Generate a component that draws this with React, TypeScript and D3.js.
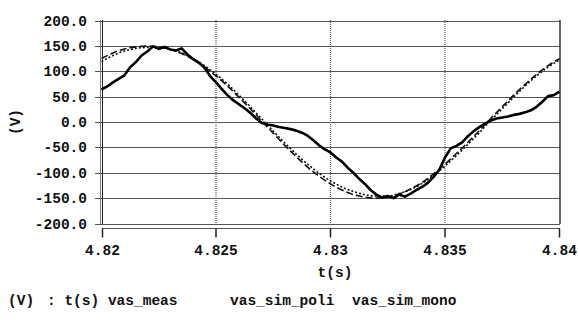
import { useEffect, useRef } from 'react';
import * as d3 from 'd3';

// time grid for the simulated waveforms (0.5 ms steps)
const simTimes = d3.range(41).map((i) => 4.82 + i * 0.0005);
// time grid for the measured waveform (0.25 ms steps)
const measTimes = d3.range(81).map((j) => 4.82 + j * 0.00025);

const vasSimPoli = [
  125, 136, 144, 148, 149.5, 148, 143, 135, 123, 108, 91, 71, 49, 26, 2, -22, -46, -68, -89, -107,
  -122, -134, -143, -148, -150, -148, -142, -132, -119, -102, -83, -62, -40, -17, 7, 30, 53, 74, 94,
  111, 125,
];

const vasSimMono = [
  119, 131, 140, 145, 147, 146.5, 143, 136, 125, 111, 94, 75, 53, 30, 6, -18, -41, -63, -83, -101,
  -116, -128, -137, -143, -146, -146, -141, -133, -121, -105, -87, -66, -44, -21, 3, 26, 49, 71, 91,
  108, 122,
];

const vasMeas = [
  64, 70, 78, 85, 92, 108, 118, 131, 139, 149, 144, 148, 143, 141, 145, 133, 124, 117, 107, 90,
  78, 65, 53, 43, 35, 27, 18, 7, -2, -5, -7, -10, -12, -14, -17, -21, -27, -36, -46, -54,
  -60, -70, -78, -90, -100, -112, -122, -134, -143, -149, -146, -150, -143, -147, -141, -134, -128,
  -120, -108, -94, -70, -52, -47, -40, -28, -18, -10, -3, 3, 7, 9, 11, 14, 16, 19, 23, 30, 40, 51,
  53, 60,
];

const yTicks = [200, 150, 100, 50, 0, -50, -100, -150, -200];
const xTicks = [4.82, 4.825, 4.83, 4.835, 4.84];
const xTickLabels = ['4.82', '4.825', '4.83', '4.835', '4.84'];

const FONT = '"Liberation Mono", "DejaVu Sans Mono", monospace';

export default function App() {
  const svgRef = useRef<SVGSVGElement>(null);

  useEffect(() => {
    if (!svgRef.current) return;
    const width = 578;
    const height = 323;

    const svg = d3.select(svgRef.current);
    svg.selectAll('*').remove();
    svg.attr('width', width).attr('height', height);

    svg.append('rect').attr('width', width).attr('height', height).attr('fill', '#fff');

    const x = d3.scaleLinear().domain([4.82, 4.84]).range([101.5, 559.5]);
    const y = d3.scaleLinear().domain([-200, 200]).range([223.5, 20.5]);

    // horizontal grid
    svg
      .append('g')
      .selectAll('line')
      .data(yTicks)
      .enter()
      .append('line')
      .attr('x1', 95)
      .attr('x2', 560)
      .attr('y1', (d) => Math.round(y(d)) + 0.5)
      .attr('y2', (d) => Math.round(y(d)) + 0.5)
      .attr('stroke', '#555')
      .attr('stroke-width', 1.2);

    // vertical dotted grid
    svg
      .append('g')
      .selectAll('line')
      .data(xTicks.slice(1, -1))
      .enter()
      .append('line')
      .attr('x1', (d) => x(d))
      .attr('x2', (d) => x(d))
      .attr('y1', 20)
      .attr('y2', 224)
      .attr('stroke', '#666')
      .attr('stroke-width', 1.2)
      .attr('stroke-dasharray', '1,1');

    // left double axis + right border
    svg.append('line').attr('x1', 100.5).attr('x2', 100.5).attr('y1', 20).attr('y2', 224)
      .attr('stroke', '#777').attr('stroke-width', 1);
    svg.append('line').attr('x1', 102.5).attr('x2', 102.5).attr('y1', 20).attr('y2', 224)
      .attr('stroke', '#222').attr('stroke-width', 1);
    svg.append('line').attr('x1', 560).attr('x2', 560).attr('y1', 20).attr('y2', 224)
      .attr('stroke', '#333').attr('stroke-width', 1.5);

    // bottom x axis with ticks
    const xAxis = svg.append('g').attr('transform', 'translate(0,228.5)');
    xAxis.append('line').attr('x1', 102).attr('x2', 560).attr('stroke', '#555').attr('stroke-width', 1.2);
    xTicks.forEach((t, i) => {
      const px = i === 0 ? 102.5 : x(t);
      xAxis.append('line').attr('x1', px).attr('x2', px).attr('y1', 0).attr('y2', 9)
        .attr('stroke', '#222').attr('stroke-width', 1.5);
      xAxis.append('text')
        .attr('x', px)
        .attr('y', 26)
        .attr('text-anchor', 'middle')
        .attr('font-family', FONT)
        .attr('font-weight', 'bold')
        .attr('font-size', 14.5)
        .attr('fill', '#111')
        .text(xTickLabels[i]);
    });

    // y tick labels
    svg
      .append('g')
      .selectAll('text')
      .data(yTicks)
      .enter()
      .append('text')
      .attr('x', 87)
      .attr('y', (d) => y(d) + 5)
      .attr('text-anchor', 'end')
      .attr('font-family', FONT)
      .attr('font-weight', 'bold')
      .attr('font-size', 14.5)
      .attr('fill', '#111')
      .text((d) => d.toFixed(1));

    // y axis title
    svg.append('text')
      .attr('transform', 'translate(20,122) rotate(-90)')
      .attr('text-anchor', 'middle')
      .attr('font-family', FONT)
      .attr('font-weight', 'bold')
      .attr('font-size', 14.5)
      .attr('fill', '#111')
      .text('(V)');

    // x axis title
    svg.append('text')
      .attr('x', 335)
      .attr('y', 277)
      .attr('text-anchor', 'middle')
      .attr('font-family', FONT)
      .attr('font-weight', 'bold')
      .attr('font-size', 14.5)
      .attr('fill', '#111')
      .text('t(s)');

    // series
    const line = d3
      .line<[number, number]>()
      .x((d) => x(d[0]))
      .y((d) => y(d[1]))
      .curve(d3.curveMonotoneX);

    const poliPts = simTimes.map((t, i) => [t, vasSimPoli[i]] as [number, number]);
    const monoPts = simTimes.map((t, i) => [t, vasSimMono[i]] as [number, number]);
    const measPts = measTimes.map((t, i) => [t, vasMeas[i]] as [number, number]);

    svg.append('path').attr('d', line(poliPts)).attr('fill', 'none')
      .attr('stroke', '#111').attr('stroke-width', 1.6).attr('stroke-dasharray', '7,3');
    svg.append('path').attr('d', line(monoPts)).attr('fill', 'none')
      .attr('stroke', '#111').attr('stroke-width', 1.6).attr('stroke-dasharray', '2,2');
    svg.append('path').attr('d', d3.line<[number, number]>().x((d) => x(d[0])).y((d) => y(d[1]))(measPts))
      .attr('fill', 'none').attr('stroke', '#000').attr('stroke-width', 2.6)
      .attr('stroke-linejoin', 'round');

    // legend line
    const legend = [
      { label: '(V)', x: 8 },
      { label: ': t(s) vas_meas', x: 47 },
      { label: 'vas_sim_poli', x: 230 },
      { label: 'vas_sim_mono', x: 352 },
    ];
    svg
      .append('g')
      .selectAll('text')
      .data(legend)
      .enter()
      .append('text')
      .attr('x', (d) => d.x)
      .attr('y', 305)
      .attr('font-family', FONT)
      .attr('font-weight', 'bold')
      .attr('font-size', 14.5)
      .attr('fill', '#111')
      .text((d) => d.label);
  }, []);

  return (
    <svg ref={svgRef} style={{ position: 'absolute', left: 0, top: 0, display: 'block' }} />
  );
}
